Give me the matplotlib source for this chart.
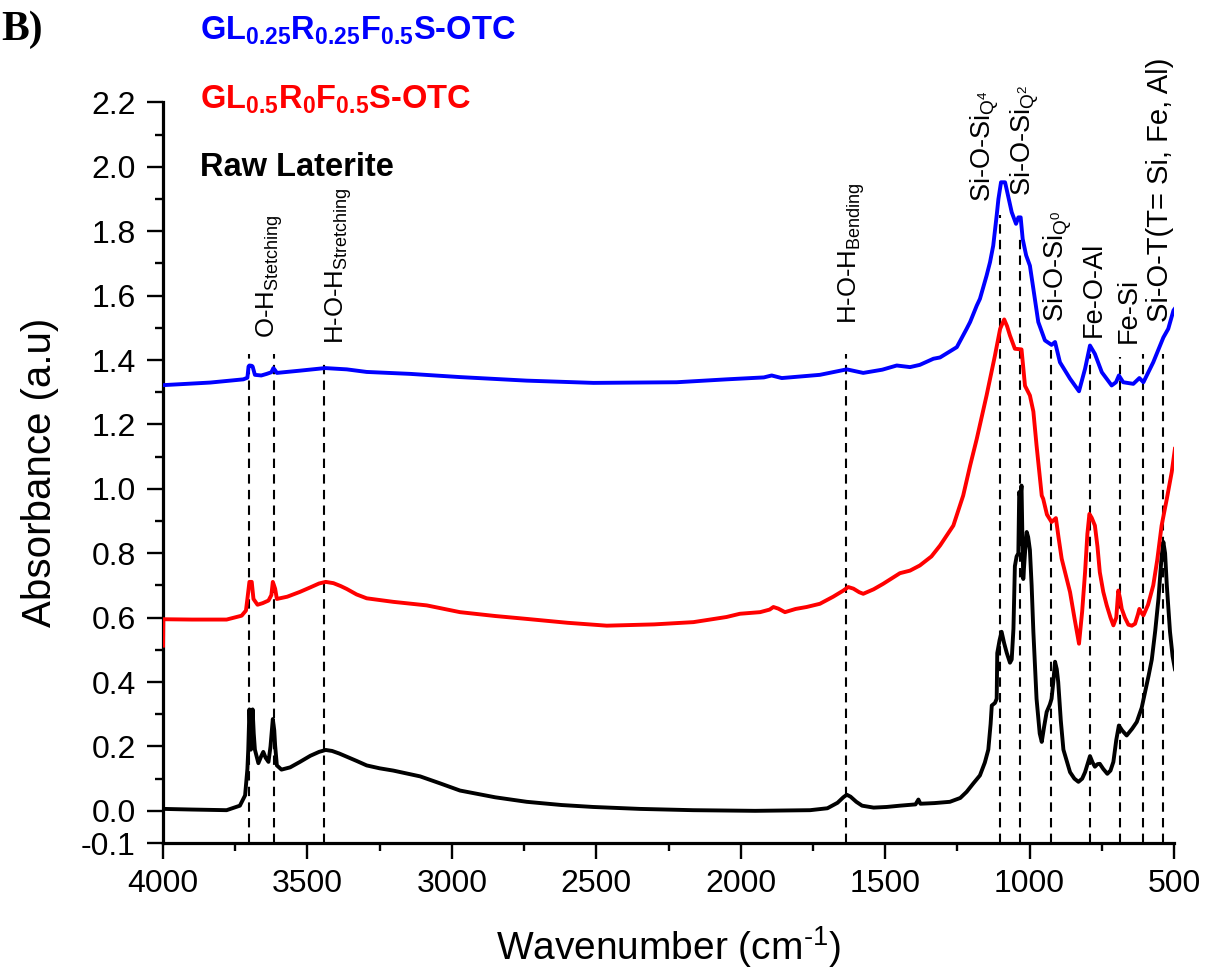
import matplotlib
matplotlib.use("Agg")
import matplotlib.pyplot as plt
from matplotlib.ticker import MultipleLocator, FixedLocator

plt.rcParams['font.family'] = ['Liberation Sans', 'DejaVu Sans']
plt.rcParams['mathtext.fontset'] = 'custom'
plt.rcParams['mathtext.rm'] = 'Liberation Sans'
plt.rcParams['mathtext.bf'] = 'Liberation Sans:bold'
plt.rcParams['mathtext.default'] = 'regular'

# Raw laterite (black)
raw_wn = [4000, 3900, 3780, 3734, 3716, 3708, 3705, 3701, 3698, 3696, 3693, 3690, 3686, 3682,
          3670, 3660, 3653, 3645, 3635, 3628, 3620, 3615, 3612, 3606, 3590, 3560, 3526, 3490, 3460,
          3437, 3415, 3390, 3364, 3330, 3295, 3250, 3203, 3110, 3040, 2972, 2850, 2741, 2620, 2511,
          2350, 2165, 1950, 1760, 1700, 1665, 1645, 1633, 1620, 1600, 1580, 1540, 1495, 1449, 1395,
          1385, 1378, 1330, 1276, 1240, 1218, 1195, 1172, 1155, 1143, 1135, 1131, 1120, 1114, 1112,
          1104, 1097, 1088, 1079, 1068, 1062, 1056, 1051, 1045, 1039, 1036, 1032, 1028, 1025, 1022,
          1016, 1010, 1005, 999, 993, 987, 976, 965, 958, 950, 941, 930, 924, 918, 912, 906, 901,
          892, 883, 860, 845, 831, 818, 808, 798, 791, 782, 774, 765, 757, 745, 731, 720, 710, 700,
          691, 680, 664, 645, 629, 612, 600, 588, 577, 565, 554, 548, 543, 537, 531, 525, 514, 505, 497]
raw_abs = [0.006, 0.004, 0.002, 0.016, 0.048, 0.13, 0.19, 0.315, 0.25, 0.19, 0.22, 0.315, 0.24, 0.19,
           0.148, 0.17, 0.183, 0.165, 0.152, 0.2, 0.285, 0.25, 0.203, 0.141, 0.128, 0.135, 0.152, 0.171, 0.183,
           0.189, 0.186, 0.178, 0.168, 0.155, 0.141, 0.132, 0.125, 0.107, 0.085, 0.063, 0.042, 0.028, 0.018, 0.012,
           0.006, 0.002, 0.0, 0.002, 0.008, 0.025, 0.042, 0.05, 0.044, 0.028, 0.016, 0.01, 0.012, 0.016, 0.02,
           0.035, 0.022, 0.024, 0.028, 0.04, 0.059, 0.085, 0.11, 0.15, 0.19, 0.27, 0.327, 0.335, 0.348, 0.49,
           0.53, 0.556, 0.52, 0.49, 0.46, 0.47, 0.565, 0.76, 0.79, 0.80, 0.99, 0.97, 1.01, 0.85, 0.72,
           0.80, 0.866, 0.85, 0.81, 0.70, 0.556, 0.348, 0.24, 0.214, 0.26, 0.307, 0.33, 0.348, 0.40, 0.463, 0.44, 0.40,
           0.28, 0.19, 0.12, 0.10, 0.09, 0.10, 0.12, 0.15, 0.17, 0.15, 0.137, 0.145, 0.146, 0.13, 0.115, 0.125, 0.152, 0.22,
           0.265, 0.25, 0.234, 0.255, 0.276, 0.32, 0.37, 0.42, 0.47, 0.56, 0.658, 0.73, 0.79, 0.835, 0.80, 0.70, 0.556, 0.48, 0.44]

# GL0.5R0F0.5S-OTC (red)
red_wn = [4000, 3999, 3900, 3780, 3728, 3713, 3708, 3701, 3697, 3693, 3687, 3673, 3655, 3635, 3625,
          3620, 3612, 3606, 3570, 3526, 3490, 3460, 3437, 3410, 3385, 3364, 3330, 3295, 3203, 3087,
          2972, 2850, 2741, 2600, 2464, 2300, 2164, 2049, 2003, 1933, 1900, 1887, 1870, 1847, 1810,
          1772, 1726, 1680, 1645, 1628, 1610, 1590, 1576, 1540, 1507, 1449, 1414, 1380, 1340, 1310,
          1264, 1230, 1206, 1183, 1149, 1120, 1102, 1088, 1078, 1068, 1051, 1028, 1016, 999, 987,
          976, 958, 953, 940, 924, 909, 900, 889, 860, 845, 829, 818, 808, 800, 793, 785, 774, 765,
          757, 745, 733, 720, 710, 700, 693, 687, 681, 670, 658, 646, 635, 625, 620, 613, 606, 590,
          572, 558, 543, 525, 508, 497]
red_abs = [0.513, 0.595, 0.594, 0.594, 0.606, 0.622, 0.658, 0.711, 0.711, 0.711, 0.658, 0.64, 0.645, 0.653, 0.67,
           0.711, 0.69, 0.658, 0.665, 0.68, 0.694, 0.706, 0.711, 0.707, 0.698, 0.689, 0.672, 0.66, 0.649, 0.638,
           0.617, 0.605, 0.596, 0.584, 0.575, 0.579, 0.586, 0.602, 0.612, 0.617, 0.625, 0.633, 0.628, 0.617, 0.627,
           0.633, 0.643, 0.665, 0.684, 0.695, 0.69, 0.679, 0.674, 0.688, 0.705, 0.738, 0.746, 0.762, 0.79, 0.824,
           0.886, 0.979, 1.072, 1.155, 1.29, 1.414, 1.497, 1.526, 1.505, 1.476, 1.435, 1.433, 1.32, 1.29, 1.24,
           1.135, 0.979, 0.969, 0.92, 0.897, 0.909, 0.85, 0.783, 0.679, 0.60, 0.519, 0.62, 0.741, 0.86, 0.922, 0.91, 0.886, 0.82,
           0.741, 0.68, 0.638, 0.60, 0.576, 0.60, 0.684, 0.66, 0.627, 0.60, 0.578, 0.575, 0.581, 0.61, 0.627, 0.615, 0.607, 0.64,
           0.70, 0.78, 0.886, 0.969, 1.052, 1.124]

# GL0.25R0.25F0.5S-OTC (blue)
blue_wn = [4000, 3837, 3722, 3708, 3704, 3701, 3693, 3690, 3682, 3660, 3641, 3625, 3618, 3612, 3606,
           3526, 3439, 3364, 3295, 3145, 2972, 2741, 2510, 2222, 2049, 1920, 1893, 1858, 1726, 1633,
           1576, 1510, 1460, 1414, 1380, 1333, 1310, 1252, 1218, 1206, 1183, 1172, 1149, 1137, 1126,
           1114, 1108, 1099, 1085, 1077, 1062, 1047, 1039, 1031, 1024, 1012, 999, 987, 970, 947, 924,
           912, 895, 860, 829, 808, 791, 774, 750, 716, 701, 691, 676, 641, 620, 606, 572, 537, 520, 502, 497]
blue_abs = [1.322, 1.33, 1.34, 1.345, 1.38, 1.383, 1.382, 1.38, 1.354, 1.352, 1.357, 1.362, 1.375, 1.368, 1.36,
            1.367, 1.375, 1.371, 1.363, 1.357, 1.347, 1.336, 1.329, 1.331, 1.34, 1.346, 1.352, 1.344, 1.354, 1.371,
            1.36, 1.37, 1.383, 1.378, 1.385, 1.404, 1.408, 1.44, 1.497, 1.518, 1.569, 1.59, 1.662, 1.704, 1.755,
            1.849, 1.90, 1.952, 1.952, 1.92, 1.859, 1.823, 1.843, 1.843, 1.776, 1.725, 1.693, 1.621, 1.518, 1.461, 1.447,
            1.456, 1.393, 1.342, 1.303, 1.373, 1.445, 1.419, 1.362, 1.321, 1.331, 1.352, 1.331, 1.326, 1.344, 1.331,
            1.393, 1.47, 1.497, 1.554, 1.56]

# band assignments: dashed marker lines and labels
band_wn = [3702, 3616, 3443, 1635, 1101, 1033, 926, 790, 688, 606, 538]
band_top = [1.42, 1.42, 1.40, 1.42, 1.85, 1.79, 1.43, 1.42, 1.41, 1.42, 1.42]
label_text = ['O-H$_{Stetching}$', 'H-O-H$_{Stretching}$', 'H-O-H$_{Bending}$',
              'Si-O-Si$_{Q^4}$', 'Si-O-Si$_{Q^2}$', 'Si-O-Si$_{Q^0}$',
              'Fe-O-Al', 'Fe-Si', 'Si-O-T(T= Si, Fe, Al)']
label_wn = [3631, 3392, 1615, 1155, 1016, 902, 777, 656, 549]
label_y = [1.467, 1.449, 1.512, 1.89, 1.91, 1.518, 1.47, 1.453, 1.518]
label_size = [18.5, 18.5, 18.5, 19.5, 19.5, 19.5, 19.5, 19.5, 21]

fig = plt.figure(figsize=(12.06, 9.69), dpi=100)
ax = fig.add_axes([0.1352, 0.1300, 0.8383, 0.7643])

ax.vlines(band_wn, -0.1, band_top, colors='black', linestyles=(0, (4.5, 3)), linewidth=1.5, zorder=1)
ax.plot(raw_wn, raw_abs, color='black', lw=2.8, zorder=3)
ax.plot(red_wn, red_abs, color='#ff0000', lw=2.8, zorder=3)
ax.plot(blue_wn, blue_abs, color='#0000ff', lw=2.8, zorder=3)

for t, x, y, fs in zip(label_text, label_wn, label_y, label_size):
    ax.text(x, y, t, rotation=90, ha='center', va='bottom', fontsize=fs, clip_on=False)

ax.set_xlim(4000, 500)
ax.set_ylim(-0.1, 2.2)
ax.xaxis.set_major_locator(MultipleLocator(500))
ax.xaxis.set_minor_locator(MultipleLocator(250))
yt = [-0.1] + [round(0.2 * i, 1) for i in range(12)]
ax.yaxis.set_major_locator(FixedLocator(yt))
ax.set_yticklabels([f'{v:.1f}' for v in yt])
ax.yaxis.set_minor_locator(FixedLocator([round(0.1 + 0.2 * i, 1) for i in range(11)]))

for s in ['top', 'right']:
    ax.spines[s].set_visible(False)
for s in ['left', 'bottom']:
    ax.spines[s].set_linewidth(2.3)
ax.tick_params(which='major', direction='out', length=11.5, width=1.7, labelsize=23)
ax.tick_params(which='minor', direction='out', length=6, width=1.7)
ax.tick_params(axis='x', which='major', pad=7)
ax.tick_params(axis='y', which='major', pad=8)

fig.text(0.5544, 1 - 947 / 969, 'Wavenumber (cm$^{\\text{-}1}$)', ha='center', va='center', fontsize=28)
fig.text(40 / 1206, 1 - 472 / 969, 'Absorbance (a.u)', rotation=90, ha='center', va='center', fontsize=29)

fig.text(0.001, 1 - 40 / 969, 'B)', fontfamily='Liberation Serif', fontweight='bold', fontsize=30, va='baseline')
fig.text(200 / 1206, 1 - 40 / 969, 'GL$_{0.25}$R$_{0.25}$F$_{0.5}$S-OTC', color='#0000ff',
         fontweight='bold', fontsize=23.5, va='baseline')
fig.text(200 / 1206, 1 - 109 / 969, 'GL$_{0.5}$R$_{0}$F$_{0.5}$S-OTC', color='#ff0000',
         fontweight='bold', fontsize=23.5, va='baseline')
fig.text(200 / 1206, 1 - 176 / 969, 'Raw Laterite', color='black',
         fontweight='bold', fontsize=23.5, va='baseline')

fig.savefig('out.png', dpi=100)
